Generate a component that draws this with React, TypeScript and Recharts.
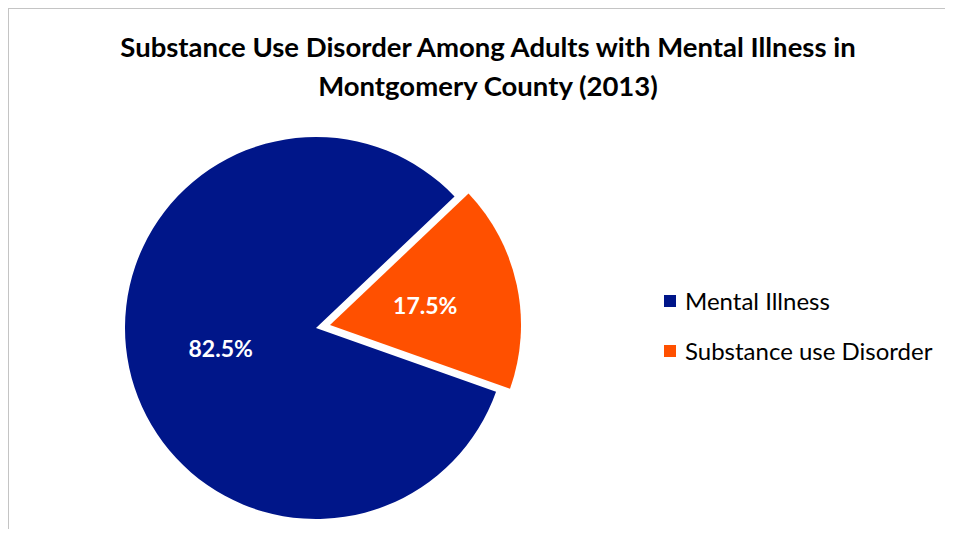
import React from 'react';
import { PieChart, Pie, Cell, Legend } from 'recharts';

const categories = ['Mental Illness', 'Substance use Disorder'];
const shares = [82.5, 17.5];
const colors = ['#001689', '#FF5000'];
const titleLines = [
  'Substance Use Disorder Among Adults with Mental Illness in',
  'Montgomery County (2013)',
];

const data = categories.map((name, i) => ({ name, value: shares[i] }));

const RAD = Math.PI / 180;
const FONT = 'Lato, "Open Sans", sans-serif';

// label drawn only for the slice that belongs to the given pie
const makeLabel = (only: number) => (props: any) => {
  const { cx, cy, midAngle, outerRadius, index, value } = props;
  if (index !== only) return null;
  const r = outerRadius * 0.51;
  const x = cx + r * Math.cos(-midAngle * RAD);
  const y = cy + r * Math.sin(-midAngle * RAD);
  return (
    <text
      x={x}
      y={y}
      fill="#fff"
      textAnchor="middle"
      dominantBaseline="central"
      fontFamily={FONT}
      fontWeight={700}
      fontSize={23}
    >
      {`${value.toFixed(1)}%`}
    </text>
  );
};

const renderLegend = () => (
  <div style={{ fontFamily: FONT, fontSize: 24, color: '#000', whiteSpace: 'nowrap' }}>
    {categories.map((c, i) => (
      <div key={c} style={{ display: 'flex', alignItems: 'center', height: 27, marginBottom: 23 }}>
        <span style={{ width: 12, height: 12, background: colors[i], marginRight: 9, display: 'inline-block', flexShrink: 0 }} />
        <span>{c}</span>
      </div>
    ))}
  </div>
);

const App: React.FC = () => {
  return (
    <div
      style={{
        position: 'relative',
        width: 944,
        height: 520,
        borderTop: '1px solid #c4c4c4',
        borderLeft: '1px solid #c4c4c4',
        overflow: 'hidden',
        background: '#fff',
      }}
    >
      <style>{'html, body { overflow: hidden; } .recharts-surface { outline: none; }'}</style>
      <div
        style={{
          position: 'absolute',
          left: 0,
          top: 18,
          width: 958,
          textAlign: 'center',
          fontFamily: FONT,
          fontWeight: 700,
          fontSize: 27.5,
          lineHeight: '39px',
          color: '#000',
        }}
      >
        {titleLines.map((l) => (
          <div key={l}>{l}</div>
        ))}
      </div>
      <PieChart width={880} height={520} margin={{ top: 0, right: 0, bottom: 0, left: 0 }}>
        <Pie
          data={data}
          dataKey="value"
          nameKey="name"
          cx={307}
          cy={319}
          outerRadius={191}
          startAngle={43.5}
          endAngle={403.5}
          stroke="none"
          label={makeLabel(0)}
          labelLine={false}
          isAnimationActive={false}
        >
          {data.map((d, i) => (
            <Cell key={d.name} fill={i === 0 ? colors[0] : 'transparent'} />
          ))}
        </Pie>
        <Pie
          data={data}
          dataKey="value"
          nameKey="name"
          cx={321}
          cy={316}
          outerRadius={191}
          startAngle={43.5}
          endAngle={403.5}
          stroke="none"
          label={makeLabel(1)}
          labelLine={false}
          legendType="none"
          isAnimationActive={false}
        >
          {data.map((d, i) => (
            <Cell key={d.name} fill={i === 1 ? colors[1] : 'transparent'} />
          ))}
        </Pie>
        <Legend
          content={renderLegend}
          wrapperStyle={{ position: 'absolute', left: 655, top: 278, width: 200 }}
        />
      </PieChart>
    </div>
  );
};

export default App;
